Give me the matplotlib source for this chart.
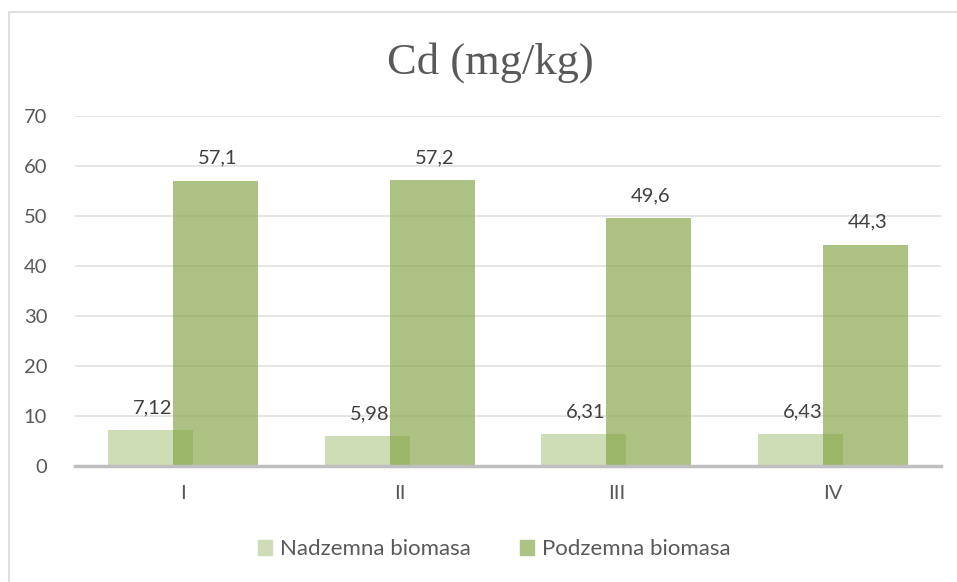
import numpy as np
import matplotlib.pyplot as plt
from matplotlib.patches import Rectangle

categories = ["I", "II", "III", "IV"]
nadzemna = [7.12, 5.98, 6.31, 6.43]
podzemna = [57.1, 57.2, 49.6, 44.3]
series_names = ["Nadzemna biomasa", "Podzemna biomasa"]
y_ticks = [0, 10, 20, 30, 40, 50, 60, 70]

text_color = "#595959"
light_green = "#CEDDB5"
dark_green = "#81A141"

plt.rcParams["font.family"] = ["Lato", "DejaVu Sans"]

fig = plt.figure(figsize=(9.57, 5.82), dpi=100)
ax = fig.add_axes([75 / 957, 1 - 466 / 582, 866 / 957, 350 / 582])

# chart frame
fig.patches.append(Rectangle((9 / 957, -0.1), 1.1, 1 - 12 / 582 + 0.1,
                             transform=fig.transFigure, fill=False,
                             edgecolor="#D9D9D9", linewidth=1.2))

x = np.arange(len(categories))
w = 0.394
off = 0.15
b1 = ax.bar(x - off, nadzemna, w, color=light_green, zorder=2)
b2 = ax.bar(x + off, podzemna, w, color=dark_green, alpha=0.65, zorder=3,
            linewidth=0)

for bars, vals in [(b1, nadzemna), (b2, podzemna)]:
    for rect, v in zip(bars, vals):
        ax.annotate(f"{v:g}".replace(".", ","),
                    (rect.get_x() + rect.get_width() / 2 + 0.01, v),
                    xytext=(0, 10), textcoords="offset points",
                    ha="center", va="bottom", fontsize=14.5, color="#404040",
                    zorder=5)

ax.set_xlim(-0.5, len(categories) - 0.5)
ax.set_ylim(0, 70)
ax.set_yticks(y_ticks)
ax.set_xticks(x)
ax.set_xticklabels(categories)
ax.tick_params(axis="both", length=0, labelsize=14.5, labelcolor=text_color)
ax.tick_params(axis="y", pad=20)
ax.tick_params(axis="x", pad=14)
ax.grid(axis="y", color="#E6E6E6", linewidth=1.4, zorder=0)
ax.set_axisbelow(True)
for s in ["top", "right", "left"]:
    ax.spines[s].set_visible(False)
ax.spines["bottom"].set_color("#BFBFBF")
ax.spines["bottom"].set_linewidth(2.5)
ax.spines["bottom"].set_zorder(4)

fig.text(490 / 957, 1 - 63 / 582, "Cd (mg/kg)", ha="center", va="center",
         fontsize=32, color=text_color, family=["Liberation Serif", "DejaVu Serif"])

handles = [Rectangle((0, 0), 1, 1, color=light_green),
           Rectangle((0, 0), 1, 1, color="#ADC283")]
fig.legend(handles, series_names, loc="center", ncol=2,
           bbox_to_anchor=(494 / 957, 1 - 549 / 582), frameon=False,
           fontsize=16, labelcolor=text_color, handlelength=0.65,
           handleheight=0.65, handletextpad=0.35, columnspacing=2.2)

fig.savefig("out.png", dpi=100)
